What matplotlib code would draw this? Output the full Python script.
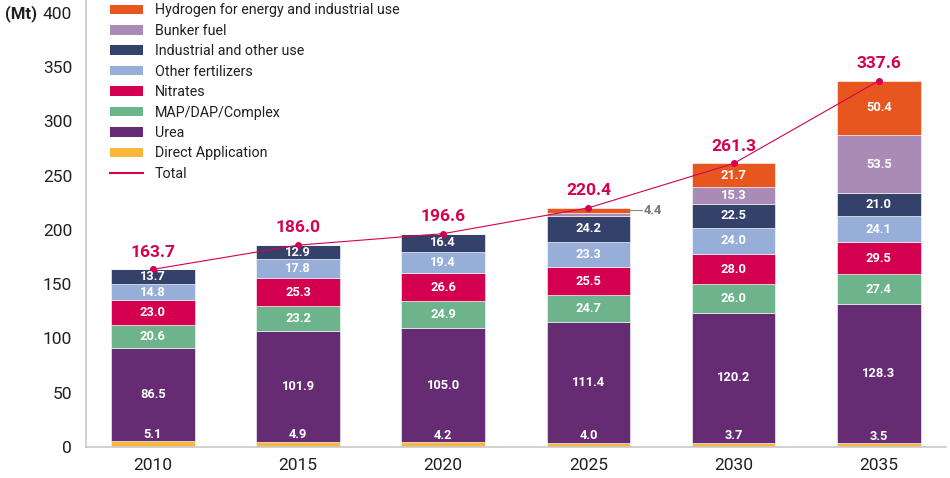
import matplotlib.pyplot as plt
import numpy as np
from matplotlib.patches import Patch
from matplotlib.lines import Line2D

plt.rcParams['font.family'] = ['Roboto', 'DejaVu Sans']

# ---- data ----
years = ['2010', '2015', '2020', '2025', '2030', '2035']
direct_app = [5.1, 4.9, 4.2, 4.0, 3.7, 3.5]
urea = [86.5, 101.9, 105.0, 111.4, 120.2, 128.3]
map_dap = [20.6, 23.2, 24.9, 24.7, 26.0, 27.4]
nitrates = [23.0, 25.3, 26.6, 25.5, 28.0, 29.5]
other_fert = [14.8, 17.8, 19.4, 23.3, 24.0, 24.1]
industrial = [13.7, 12.9, 16.4, 24.2, 22.5, 21.0]
bunker = [0.0, 0.0, 0.0, 2.9, 15.3, 53.5]
hydrogen = [0.0, 0.0, 0.0, 4.4, 21.7, 50.4]
total = [163.7, 186.0, 196.6, 220.4, 261.3, 337.6]

series = [
    ('Direct Application', direct_app, '#F8B73A'),
    ('Urea', urea, '#662C73'),
    ('MAP/DAP/Complex', map_dap, '#6DB38B'),
    ('Nitrates', nitrates, '#D4004F'),
    ('Other fertilizers', other_fert, '#97AED9'),
    ('Industrial and other use', industrial, '#34416B'),
    ('Bunker fuel', bunker, '#A98BB5'),
    ('Hydrogen for energy and industrial use', hydrogen, '#E85620'),
]
line_color = '#D6004F'
text_color = '#231F20'

# ---- figure ----
fig = plt.figure(figsize=(9.5, 4.78), dpi=100)
ax = fig.add_axes([0.0905, 0.065, 0.905, 0.935])

x = np.arange(len(years))
width = 0.575
bottom = np.zeros(len(years))
for name, vals, col in series:
    vals = np.array(vals)
    ax.bar(x, vals, width, bottom=bottom, color=col, edgecolor='white',
           linewidth=0.4)
    for i, v in enumerate(vals):
        if v <= 0:
            continue
        if name == 'Direct Application':
            ax.text(x[i], bottom[i] + v + 0.5, f'{v:.1f}', ha='center', va='bottom',
                    color='white', fontsize=9.3, fontweight='bold')
        elif name == 'Bunker fuel' and v < 5:
            pass
        elif name.startswith('Hydrogen') and v < 5:
            # small segment: grey label with leader line to the right
            yy = bottom[i] + v / 2
            ax.plot([x[i] + width / 2, x[i] + width / 2 + 0.08], [yy, yy],
                    color='#888888', lw=0.8)
            ax.text(x[i] + width / 2 + 0.09, yy, f'{v:.1f}', ha='left', va='center',
                    color='#777777', fontsize=9.3, fontweight='bold')
        else:
            ax.text(x[i], bottom[i] + v / 2, f'{v:.1f}', ha='center', va='center',
                    color='white', fontsize=9.3, fontweight='bold')
    bottom += vals

# total line
ax.plot(x, total, color=line_color, lw=0.8, marker='o', markersize=4)
for i, t in enumerate(total):
    ax.text(x[i], t + 9, f'{t:.1f}', ha='center', va='bottom',
            color=line_color, fontsize=12.5, fontweight='bold')

# axes styling
ax.set_xlim(-0.46, 5.46)
ax.set_ylim(0, 412)
ax.set_yticks(np.arange(0, 401, 50))
ax.set_xticks(x)
ax.set_xticklabels(years)
ax.tick_params(axis='both', length=0, labelsize=12.5, colors=text_color)
ax.tick_params(axis='y', pad=10)
ax.tick_params(axis='x', pad=8)
for s in ['top', 'right']:
    ax.spines[s].set_visible(False)
for s in ['left', 'bottom']:
    ax.spines[s].set_color('#C8C8C8')
    ax.spines[s].set_linewidth(1.2)

fig.text(0.005, 0.972, '(Mt)', fontsize=12, fontweight='bold', color=text_color,
         ha='left', va='center')

# legend
handles = [Patch(facecolor=col, edgecolor='none', label=name)
           for name, vals, col in series[::-1]]
handles.append(Line2D([0], [0], color=line_color, lw=1.5, label='Total'))
fig.legend(handles=handles, loc='upper left', bbox_to_anchor=(0.102, 1.02),
           frameon=False, fontsize=10.3, handlelength=2.3, handleheight=0.65,
           handletextpad=0.85, labelspacing=0.45, labelcolor=text_color)

fig.savefig('out.png', dpi=100)
